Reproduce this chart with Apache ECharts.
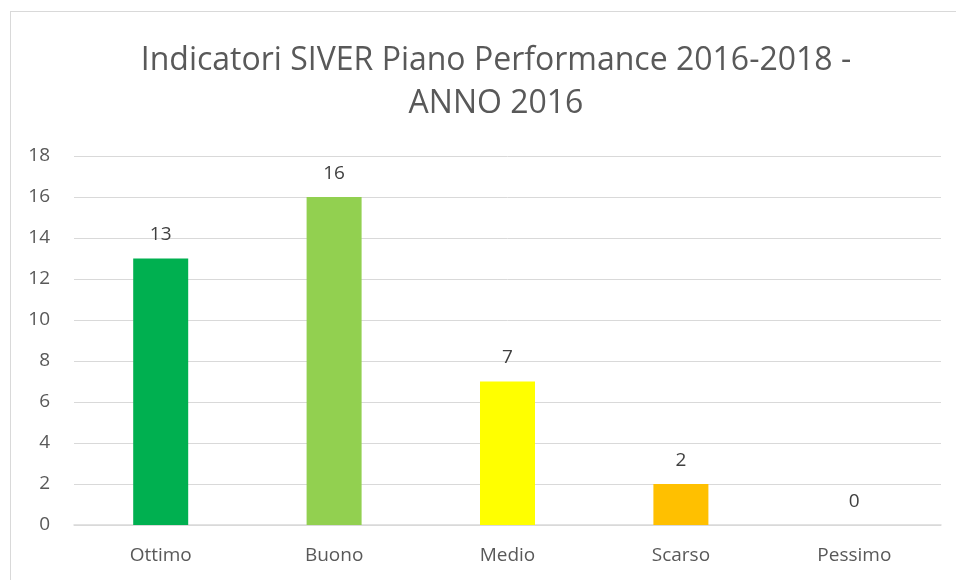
<!DOCTYPE html>
<html>
<head>
    <meta charset="utf-8">
    <title>Indicatori SIVER</title>
    <script src="https://cdn.jsdelivr.net/npm/echarts@6/dist/echarts.min.js"></script>
    <style>
        html, body { margin: 0; padding: 0; background: #fff; }
        #frame { position: absolute; left: 10px; top: 11px; width: 960px; height: 600px; border: 1px solid #d9d9d9; box-sizing: border-box; }
        #chart { position: absolute; left: 0; top: 0; width: 956px; height: 580px; }
    </style>
</head>
<body>
<div id="frame"></div>
<div id="chart"></div>
<script>
    // dati
    var categorie = ['Ottimo', 'Buono', 'Medio', 'Scarso', 'Pessimo'];
    var valori = [13, 16, 7, 2, 0];
    var colori = ['#00B050', '#92D050', '#FFFF00', '#FFC000', '#A5A5A5'];

    var myChart = echarts.init(document.getElementById('chart'));
    var option = {
        animation: false,
        title: {
            text: 'Indicatori SIVER Piano Performance 2016-2018 -\nANNO 2016',
            left: 491,
            top: 34,
            textAlign: 'center',
            textStyle: {
                fontFamily: 'Open Sans',
                fontWeight: 'normal',
                fontSize: 32,
                color: '#595959',
                lineHeight: 43
            }
        },
        grid: {
            left: 74,
            right: 15,
            top: 156,
            bottom: 55
        },
        xAxis: {
            type: 'category',
            data: categorie,
            axisTick: { show: false },
            axisLine: { lineStyle: { color: '#d9d9d9', width: 1.5 } },
            axisLabel: {
                color: '#595959',
                fontFamily: 'Open Sans',
                fontSize: 19,
                margin: 21
            }
        },
        yAxis: {
            type: 'value',
            min: 0,
            max: 18,
            interval: 2,
            axisLine: { show: false },
            axisTick: { show: false },
            splitLine: { lineStyle: { color: '#d9d9d9', width: 1 } },
            axisLabel: {
                color: '#595959',
                fontFamily: 'Open Sans',
                fontSize: 19,
                margin: 24
            }
        },
        series: [{
            type: 'bar',
            barWidth: 55,
            data: valori.map(function (v, i) {
                return { value: v, itemStyle: { color: colori[i] } };
            }),
            label: {
                show: true,
                position: 'top',
                distance: 14,
                color: '#404040',
                fontFamily: 'Open Sans',
                fontSize: 19
            }
        }]
    };
    myChart.setOption(option);
</script>
</body>
</html>
